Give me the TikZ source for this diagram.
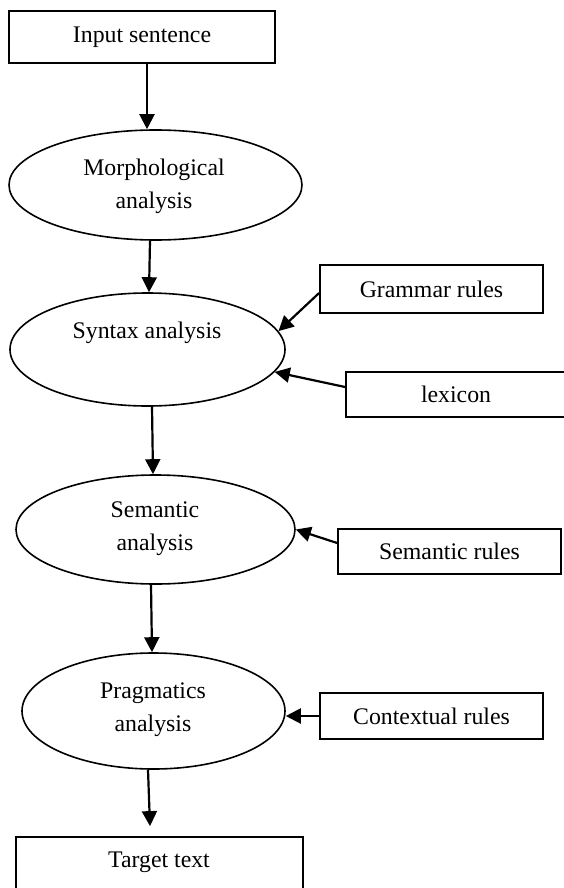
\documentclass[tikz,border=0pt]{standalone}
\usepackage{fontspec}
\setmainfont{Liberation Serif}
\usetikzlibrary{shapes.geometric,arrows.meta,calc}
\tikzset{
  lbl/.style={font=\fontsize{23.8}{33}\selectfont, align=center, inner sep=0pt},
  boxn/.style={draw, line width=1.8pt, rectangle, inner sep=0pt, font=\fontsize{23.8}{33}\selectfont},
  ell/.style={draw, line width=1.6pt, ellipse, inner sep=0pt},
  arr/.style={line width=2.2pt, -{Triangle[length=15pt,width=15pt]}}
}
\begin{document}
\begin{tikzpicture}[x=1pt,y=-1pt]
\useasboundingbox (0,0) rectangle (564,888);
\clip (0,0) rectangle (564,888);
% boxes
\node[boxn, minimum width=266pt, minimum height=52pt] (in) at (142,37) {Input sentence};
\node[boxn, minimum width=223pt, minimum height=48pt] (gram) at (431.5,289) {Grammar rules};
\node[boxn, minimum width=230pt, minimum height=45pt, text width=222pt, align=left] (lex) at (461,394.5) {\hspace*{71pt}lexicon};
\node[boxn, minimum width=223pt, minimum height=45pt] (semr) at (449.5,551.5) {Semantic rules};
\node[boxn, minimum width=223pt, minimum height=46pt] (ctx) at (431.5,716) {Contextual rules};
\node[boxn, minimum width=287pt, minimum height=63pt] (tgt) at (159.5,868.5) {};
\node[lbl] (tgtt) at (159,862) {Target text};
% ellipses
\node[ell, minimum width=293pt, minimum height=110pt] (morph) at (155.5,185) {};
\node[lbl] (morpht) at (154,186.5) {Morphological\\analysis};
\node[ell, minimum width=275pt, minimum height=113pt] (syn) at (147.5,349.5) {};
\node[lbl] (synt) at (147,333) {Syntax analysis};
\node[ell, minimum width=279pt, minimum height=109pt] (sem) at (155.5,529.5) {};
\node[lbl] (semt) at (155,529) {Semantic\\analysis};
\node[ell, minimum width=263pt, minimum height=116pt] (prag) at (153.5,711) {};
\node[lbl] (pragt) at (153,710) {Pragmatics\\analysis};
% arrows
\draw[arr] ([xshift=5pt]in.south) -- ([xshift=-8.5pt]morph.north);
\draw[arr] ([xshift=-5.5pt]morph.south) -- ([xshift=1.5pt]syn.north);
\draw[arr] ([xshift=4.5pt]syn.south) -- ([xshift=-2.5pt]sem.north);
\draw[arr] ([xshift=-4.5pt]sem.south) -- ([xshift=-1.5pt]prag.north);
\draw[arr] ([xshift=-5.5pt]prag.south) -- ([xshift=-9.5pt,yshift=10pt]tgt.north);
\draw[arr] ([yshift=-4pt]gram.west) -- (syn.8);
\draw[arr] ([yshift=7.5pt]lex.west) -- (syn.-10);
\draw[arr] ([yshift=8.5pt]semr.west) -- (sem.east);
\draw[arr] (ctx.west) -- (ctx.west -| prag.east);
\end{tikzpicture}
\end{document}
